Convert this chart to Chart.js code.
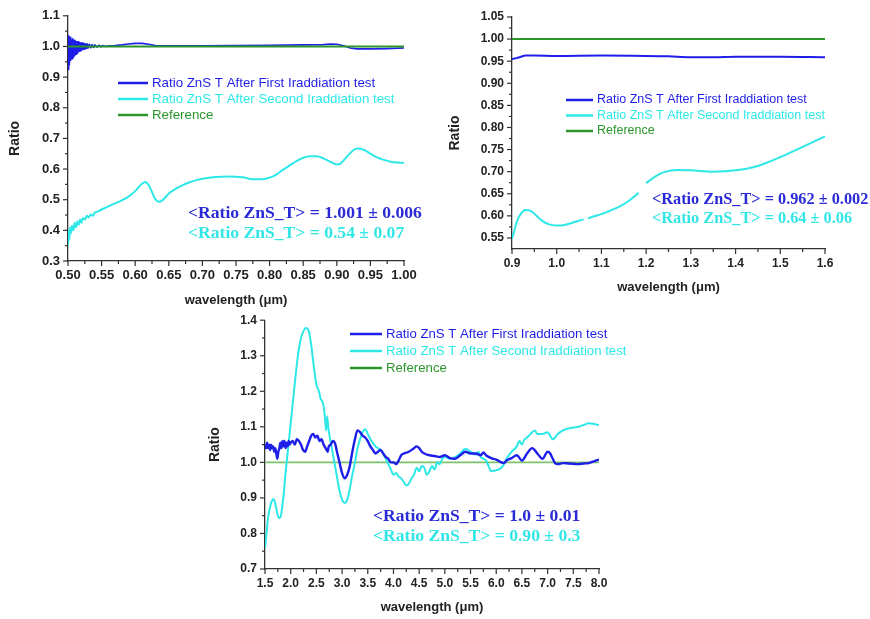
<!DOCTYPE html>
<html>
<head>
<meta charset="utf-8">
<script src="https://cdn.jsdelivr.net/npm/chart.js@4.4.1/dist/chart.umd.min.js"></script>
<style>
  body { margin: 0; background: #fff; }
  #wrap { position: relative; width: 870px; height: 619px; overflow: hidden; background: #fff; }
  canvas { position: absolute; }
</style>
</head>
<body>
<div id="wrap">
  <canvas id="vis" width="440" height="315" style="left:0;top:0"></canvas>
  <canvas id="nir" width="440" height="300" style="left:430px;top:0"></canvas>
  <canvas id="ir" width="430" height="314" style="left:200px;top:305px"></canvas>
</div>
<script>
const seriesNames = [
  "Ratio ZnS T After First Iraddiation test",
  "Ratio ZnS T After Second Iraddiation test",
  "Reference",
];
const blue = "#1e1ee8";
const cyan = "#2ee8e8";
const green = "#2b962b";

// 0.5 - 1.0 um
const visFirst = [
  [0.500, 0.925], [0.501, 1.035], [0.502, 0.94], [0.503, 1.03], [0.504, 0.955],
  [0.505, 1.022], [0.506, 0.96], [0.507, 1.025], [0.508, 0.965], [0.509, 1.02],
  [0.510, 0.97], [0.511, 1.018], [0.512, 0.975], [0.513, 1.016], [0.514, 0.978],
  [0.515, 1.015], [0.516, 0.983], [0.517, 1.013], [0.518, 0.985], [0.519, 1.012],
  [0.520, 0.988], [0.521, 1.011], [0.522, 0.99], [0.523, 1.01], [0.524, 0.991],
  [0.525, 1.009], [0.526, 0.993], [0.527, 1.008], [0.528, 0.994], [0.529, 1.008],
  [0.530, 0.995], [0.532, 1.007], [0.534, 0.996], [0.536, 1.006], [0.538, 0.997],
  [0.540, 1.005], [0.543, 0.998], [0.546, 1.004], [0.549, 0.999], [0.552, 1.003],
  [0.556, 1.0], [0.560, 1.002], [0.570, 1.003], [0.580, 1.005], [0.590, 1.008],
  [0.600, 1.010], [0.610, 1.010], [0.620, 1.007], [0.630, 1.003], [0.650, 1.002],
  [0.700, 1.002], [0.750, 1.003], [0.800, 1.004], [0.850, 1.005], [0.880, 1.006],
  [0.890, 1.008], [0.900, 1.007], [0.910, 1.002], [0.920, 0.995], [0.930, 0.992],
  [0.950, 0.992], [0.975, 0.993], [1.000, 0.995],
];
const visSecond = [
  [0.500, 0.35], [0.501, 0.40], [0.502, 0.37], [0.503, 0.41], [0.504, 0.39],
  [0.506, 0.415], [0.508, 0.40], [0.510, 0.425], [0.512, 0.41], [0.514, 0.43],
  [0.516, 0.418], [0.518, 0.435], [0.520, 0.425], [0.522, 0.44], [0.525, 0.435],
  [0.528, 0.448], [0.531, 0.442], [0.534, 0.452], [0.537, 0.448], [0.540, 0.458],
  [0.545, 0.462], [0.550, 0.468], [0.555, 0.473], [0.560, 0.478], [0.570, 0.488],
  [0.580, 0.498], [0.590, 0.51], [0.600, 0.528], [0.605, 0.54], [0.610, 0.552],
  [0.615, 0.558], [0.620, 0.548], [0.625, 0.525], [0.630, 0.502], [0.635, 0.493],
  [0.640, 0.497], [0.645, 0.508], [0.650, 0.52], [0.660, 0.535], [0.670, 0.547],
  [0.680, 0.556], [0.690, 0.563], [0.700, 0.568], [0.720, 0.574], [0.740, 0.576],
  [0.760, 0.573], [0.775, 0.567], [0.790, 0.567], [0.800, 0.572], [0.810, 0.582],
  [0.820, 0.598], [0.830, 0.612], [0.840, 0.626], [0.850, 0.637], [0.860, 0.642],
  [0.870, 0.642], [0.880, 0.635], [0.890, 0.624], [0.900, 0.615], [0.905, 0.617],
  [0.915, 0.64], [0.925, 0.662], [0.930, 0.667], [0.940, 0.663], [0.950, 0.65],
  [0.960, 0.638], [0.970, 0.63], [0.980, 0.624], [0.990, 0.621], [1.000, 0.62],
];
const visRef = [[0.50, 1.0], [1.00, 1.0]];
const visXTicks = [0.50, 0.55, 0.60, 0.65, 0.70, 0.75, 0.80, 0.85, 0.90, 0.95, 1.00];
const visYTicks = [0.3, 0.4, 0.5, 0.6, 0.7, 0.8, 0.9, 1.0, 1.1];
const visNotes = ["<Ratio ZnS_T> = 1.001 ± 0.006", "<Ratio ZnS_T> = 0.54 ± 0.07"];

// 0.9 - 1.6 um
const nirFirst = [
  [0.90, 0.955], [0.91, 0.957], [0.92, 0.960], [0.93, 0.963], [0.95, 0.963],
  [1.00, 0.962], [1.10, 0.963], [1.20, 0.962], [1.25, 0.961], [1.30, 0.959],
  [1.35, 0.959], [1.40, 0.960], [1.50, 0.960], [1.60, 0.959],
];
const nirSecond = [
  [0.900, 0.548], [0.905, 0.565], [0.910, 0.585], [0.920, 0.605], [0.930, 0.613],
  [0.940, 0.612], [0.950, 0.605], [0.960, 0.595], [0.970, 0.587], [0.980, 0.582],
  [0.990, 0.579], [1.000, 0.578], [1.020, 0.580], [1.040, 0.586], [1.060, 0.592],
  [1.065, null], [1.070, 0.594], [1.080, 0.598], [1.100, 0.604], [1.120, 0.612],
  [1.140, 0.621], [1.160, 0.633], [1.183, 0.652], [1.190, null], [1.200, 0.674],
  [1.220, 0.689], [1.240, 0.699], [1.270, 0.704], [1.300, 0.703], [1.350, 0.700],
  [1.400, 0.703], [1.450, 0.713], [1.500, 0.733], [1.550, 0.756], [1.600, 0.780],
];
const nirRef = [[0.9, 1.0], [1.6, 1.0]];
const nirXTicks = [0.9, 1.0, 1.1, 1.2, 1.3, 1.4, 1.5, 1.6];
const nirYTicks = [0.55, 0.60, 0.65, 0.70, 0.75, 0.80, 0.85, 0.90, 0.95, 1.00, 1.05];
const nirNotes = ["<Ratio ZnS_T> = 0.962 ± 0.002", "<Ratio ZnS_T> = 0.64 ± 0.06"];

// 1.5 - 8.0 um
const irFirst = [
  [1.50, 1.05], [1.52, 1.04], [1.54, 1.055], [1.56, 1.04], [1.58, 1.05],
  [1.60, 1.035], [1.62, 1.05], [1.64, 1.04], [1.66, 1.045], [1.68, 1.03],
  [1.70, 1.04], [1.72, 1.025], [1.74, 1.01], [1.76, 1.03], [1.78, 1.04],
  [1.80, 1.055], [1.82, 1.04], [1.84, 1.06], [1.86, 1.045], [1.88, 1.06],
  [1.90, 1.04], [1.92, 1.055], [1.94, 1.045], [1.96, 1.06], [1.98, 1.05],
  [2.00, 1.055], [2.04, 1.06], [2.08, 1.05], [2.12, 1.065], [2.16, 1.06],
  [2.20, 1.05], [2.24, 1.035], [2.28, 1.03], [2.32, 1.045], [2.36, 1.06],
  [2.40, 1.075], [2.44, 1.08], [2.48, 1.07], [2.52, 1.075], [2.56, 1.06],
  [2.60, 1.065], [2.64, 1.05], [2.68, 1.04], [2.72, 1.03], [2.74, 1.045],
  [2.78, 1.05], [2.82, 1.06], [2.86, 1.055], [2.90, 1.03], [2.95, 1.0],
  [3.00, 0.97], [3.05, 0.955], [3.10, 0.965], [3.15, 0.99], [3.20, 1.03],
  [3.25, 1.065], [3.30, 1.09], [3.35, 1.085], [3.40, 1.075], [3.45, 1.07],
  [3.50, 1.06], [3.55, 1.045], [3.60, 1.035], [3.65, 1.025], [3.70, 1.03],
  [3.75, 1.035], [3.80, 1.025], [3.85, 1.015], [3.90, 1.01], [3.95, 1.0],
  [4.00, 1.0], [4.05, 0.995], [4.10, 1.005], [4.15, 1.02], [4.20, 1.025],
  [4.30, 1.03], [4.40, 1.04], [4.45, 1.045], [4.50, 1.04], [4.55, 1.03],
  [4.60, 1.025], [4.70, 1.02], [4.80, 1.018], [4.90, 1.015], [5.00, 1.02],
  [5.10, 1.012], [5.20, 1.01], [5.30, 1.02], [5.40, 1.03], [5.50, 1.025],
  [5.60, 1.025], [5.70, 1.02], [5.75, 1.028], [5.80, 1.02], [5.90, 1.012],
  [6.00, 1.008], [6.10, 1.0], [6.15, 0.998], [6.20, 1.005], [6.30, 1.012],
  [6.40, 1.02], [6.50, 1.005], [6.60, 1.025], [6.70, 1.04], [6.80, 1.025],
  [6.90, 1.01], [7.00, 1.03], [7.05, 1.025], [7.10, 1.01], [7.15, 0.997],
  [7.20, 0.995], [7.30, 0.998], [7.40, 0.997], [7.50, 0.996], [7.60, 0.995],
  [7.70, 0.997], [7.80, 0.998], [7.90, 1.003], [8.00, 1.008],
];
const irSecond = [
  [1.50, 0.76], [1.53, 0.80], [1.56, 0.845], [1.60, 0.875], [1.63, 0.89],
  [1.66, 0.897], [1.69, 0.89], [1.72, 0.87], [1.75, 0.85], [1.78, 0.843],
  [1.81, 0.85], [1.84, 0.88], [1.87, 0.92], [1.90, 0.97], [1.95, 1.04],
  [2.00, 1.11], [2.05, 1.18], [2.10, 1.25], [2.15, 1.31], [2.20, 1.35],
  [2.25, 1.37], [2.30, 1.378], [2.35, 1.37], [2.40, 1.33], [2.45, 1.27],
  [2.50, 1.22], [2.55, 1.20], [2.58, 1.18], [2.62, 1.17], [2.65, 1.15],
  [2.67, 1.12], [2.69, 1.09], [2.71, 1.13], [2.73, 1.10], [2.75, 1.08],
  [2.80, 1.04], [2.85, 1.00], [2.90, 0.96], [2.95, 0.92], [3.00, 0.895],
  [3.05, 0.886], [3.10, 0.895], [3.15, 0.925], [3.20, 0.965], [3.25, 1.00],
  [3.30, 1.04], [3.35, 1.065], [3.40, 1.085], [3.45, 1.093], [3.50, 1.08],
  [3.55, 1.065], [3.60, 1.055], [3.65, 1.045], [3.70, 1.04], [3.75, 1.035],
  [3.80, 1.025], [3.85, 1.01], [3.90, 0.995], [3.95, 0.98], [4.00, 0.965],
  [4.05, 0.97], [4.10, 0.96], [4.15, 0.955], [4.20, 0.945], [4.25, 0.935],
  [4.30, 0.94], [4.35, 0.955], [4.40, 0.965], [4.45, 0.985], [4.50, 0.975],
  [4.55, 0.99], [4.60, 0.985], [4.65, 0.965], [4.70, 0.975], [4.75, 0.99],
  [4.80, 0.98], [4.85, 1.0], [4.90, 0.995], [4.95, 1.01], [5.00, 1.015],
  [5.10, 1.01], [5.20, 1.015], [5.30, 1.025], [5.40, 1.038], [5.50, 1.03],
  [5.60, 1.022], [5.65, 1.03], [5.70, 1.015], [5.80, 1.005], [5.85, 0.99],
  [5.90, 0.975], [6.00, 0.978], [6.05, 0.98], [6.10, 0.985], [6.15, 0.995],
  [6.20, 1.01], [6.30, 1.03], [6.40, 1.045], [6.45, 1.06], [6.50, 1.05],
  [6.55, 1.065], [6.60, 1.07], [6.70, 1.085], [6.75, 1.09], [6.80, 1.08],
  [6.90, 1.08], [7.00, 1.085], [7.05, 1.075], [7.10, 1.065], [7.20, 1.08],
  [7.30, 1.09], [7.40, 1.095], [7.50, 1.098], [7.60, 1.10], [7.70, 1.105],
  [7.80, 1.11], [7.90, 1.108], [8.00, 1.105],
];
const irRef = [[1.5, 1.0], [8.0, 1.0]];
const irXTicks = [1.5, 2.0, 2.5, 3.0, 3.5, 4.0, 4.5, 5.0, 5.5, 6.0, 6.5, 7.0, 7.5, 8.0];
const irYTicks = [0.7, 0.8, 0.9, 1.0, 1.1, 1.2, 1.3, 1.4];
const irNotes = ["<Ratio ZnS_T> = 1.0 ± 0.01", "<Ratio ZnS_T> = 0.90 ± 0.3"];

const axisColor = "#333";
const textColor = "#222";
const sans = "'Liberation Sans', Arial, sans-serif";
const serif = "'Liberation Serif', 'Times New Roman', serif";

// minor ticks halfway between the labelled ones, plus legend and mean values
function overlay(cfg) {
  return {
    id: "overlay",
    afterDraw(chart) {
      const ctx = chart.ctx;
      const xs = chart.scales.x;
      const ys = chart.scales.y;
      const area = chart.chartArea;
      ctx.save();
      ctx.strokeStyle = axisColor;
      ctx.lineWidth = 1.2;
      const mark = (vals, minor) => {
        vals.forEach((v) => {
          const px = xs.getPixelForValue(v);
          ctx.beginPath();
          ctx.moveTo(px, area.bottom);
          ctx.lineTo(px, area.bottom + (minor ? 3 : 5));
          ctx.stroke();
        });
      };
      const markY = (vals, minor) => {
        vals.forEach((v) => {
          const py = ys.getPixelForValue(v);
          ctx.beginPath();
          ctx.moveTo(area.left, py);
          ctx.lineTo(area.left - (minor ? 3 : 5), py);
          ctx.stroke();
        });
      };
      const mids = (t) => t.slice(1).map((v, i) => (v + t[i]) / 2);
      mark(cfg.xTicks, false);
      mark(mids(cfg.xTicks), true);
      markY(cfg.yTicks, false);
      markY(mids(cfg.yTicks), true);

      // legend
      const lg = cfg.legend;
      ctx.font = lg.size + "px " + sans;
      ctx.textBaseline = "middle";
      ctx.textAlign = "left";
      seriesNames.forEach((name, i) => {
        const y = lg.y + i * lg.dy;
        ctx.strokeStyle = lg.colors[i];
        ctx.lineWidth = 2.5;
        ctx.beginPath();
        ctx.moveTo(lg.x0, y);
        ctx.lineTo(lg.x1, y);
        ctx.stroke();
        ctx.fillStyle = lg.colors[i];
        ctx.fillText(name, lg.x1 + 4, y);
      });

      // mean ratio notes
      ctx.font = "bold " + cfg.noteSize + "px " + serif;
      const noteColors = ["#2a2ad6", "#33e6e6"];
      cfg.notes.forEach((t, i) => {
        ctx.fillStyle = noteColors[i];
        ctx.fillText(t, cfg.noteX, cfg.noteY + i * cfg.noteDy);
      });
      ctx.restore();
    },
  };
}

function makeChart(id, cfg) {
  const ctx = document.getElementById(id).getContext("2d");
  return new Chart(ctx, {
    type: "line",
    data: { datasets: cfg.datasets },
    options: {
      responsive: false,
      animation: false,
      devicePixelRatio: 1,
      layout: { padding: cfg.padding },
      plugins: { legend: { display: false }, tooltip: { enabled: false } },
      elements: {
        point: { radius: 0 },
        line: { cubicInterpolationMode: "monotone", borderJoinStyle: "round" },
      },
      scales: {
        x: {
          type: "linear",
          min: cfg.xRange[0],
          max: cfg.xRange[1],
          grid: { display: false, drawTicks: false },
          border: { color: axisColor, width: 1.3 },
          afterBuildTicks: (s) => { s.ticks = cfg.xTicks.map((v) => ({ value: v })); },
          afterFit: (s) => { s.height = cfg.xHeight; },
          ticks: {
            autoSkip: false,
            maxRotation: 0,
            padding: 7,
            color: textColor,
            font: { family: sans, size: cfg.tickSize, weight: "bold" },
            callback: (v) => v.toFixed(cfg.xDec),
          },
          title: {
            display: true,
            text: "wavelength (μm)",
            color: textColor,
            padding: 0,
            font: { family: sans, size: 13, weight: "bold" },
          },
        },
        y: {
          type: "linear",
          min: cfg.yRange[0],
          max: cfg.yRange[1],
          grid: { display: false, drawTicks: false },
          border: { color: axisColor, width: 1.3 },
          afterBuildTicks: (s) => { s.ticks = cfg.yTicks.map((v) => ({ value: v })); },
          afterFit: (s) => { s.width = cfg.yWidth; },
          ticks: {
            autoSkip: false,
            padding: 8,
            color: textColor,
            font: { family: sans, size: cfg.tickSize, weight: "bold" },
            callback: (v) => v.toFixed(cfg.yDec),
          },
          title: {
            display: true,
            text: "Ratio",
            color: textColor,
            padding: 0,
            font: { family: sans, size: 14, weight: "bold" },
          },
        },
      },
    },
    plugins: [overlay(cfg)],
  });
}

makeChart("vis", {
  datasets: [
    { label: seriesNames[2], data: visRef, borderColor: green, borderWidth: 2 },
    { label: seriesNames[0], data: visFirst, borderColor: blue, borderWidth: 1.6, cubicInterpolationMode: "default", tension: 0 },
    { label: seriesNames[1], data: visSecond, borderColor: cyan, borderWidth: 2 },
  ],
  padding: { left: 7, right: 36, top: 14, bottom: 7 },
  xRange: [0.5, 1.0], yRange: [0.3, 1.1],
  xTicks: visXTicks, yTicks: visYTicks, xDec: 2, yDec: 1,
  xHeight: 47, yWidth: 61, tickSize: 13,
  legend: { x0: 118, x1: 148, y: 83, dy: 16, size: 13.3, colors: [blue, cyan, green] },
  notes: visNotes, noteX: 188, noteY: 213, noteDy: 20, noteSize: 17.6,
});

makeChart("nir", {
  datasets: [
    { label: seriesNames[2], data: nirRef, borderColor: green, borderWidth: 2 },
    { label: seriesNames[0], data: nirFirst, borderColor: blue, borderWidth: 2 },
    { label: seriesNames[1], data: nirSecond, borderColor: cyan, borderWidth: 2, spanGaps: false },
  ],
  padding: { left: 17, right: 45, top: 17, bottom: 5 },
  xRange: [0.9, 1.6], yRange: [0.525, 1.05],
  xTicks: nirXTicks, yTicks: nirYTicks, xDec: 1, yDec: 2,
  xHeight: 46, yWidth: 65, tickSize: 12,
  legend: { x0: 136, x1: 163, y: 100, dy: 15.5, size: 12.5, colors: [blue, cyan, green] },
  notes: nirNotes, noteX: 222, noteY: 200, noteDy: 19, noteSize: 16.3,
});

makeChart("ir", {
  datasets: [
    { label: seriesNames[0], data: irFirst, borderColor: blue, borderWidth: 2.4 },
    { label: seriesNames[1], data: irSecond, borderColor: cyan, borderWidth: 2 },
    { label: seriesNames[2], data: irRef, borderColor: "#7cc46c", borderWidth: 1.6 },
  ],
  padding: { left: 7, right: 31, top: 14, bottom: 4 },
  xRange: [1.5, 8.0], yRange: [0.7, 1.4],
  xTicks: irXTicks, yTicks: irYTicks, xDec: 1, yDec: 1,
  xHeight: 46, yWidth: 58, tickSize: 12,
  legend: { x0: 150, x1: 182, y: 29, dy: 17, size: 13.2, colors: [blue, cyan, green] },
  notes: irNotes, noteX: 173, noteY: 211, noteDy: 20, noteSize: 17.6,
});
</script>
</body>
</html>
